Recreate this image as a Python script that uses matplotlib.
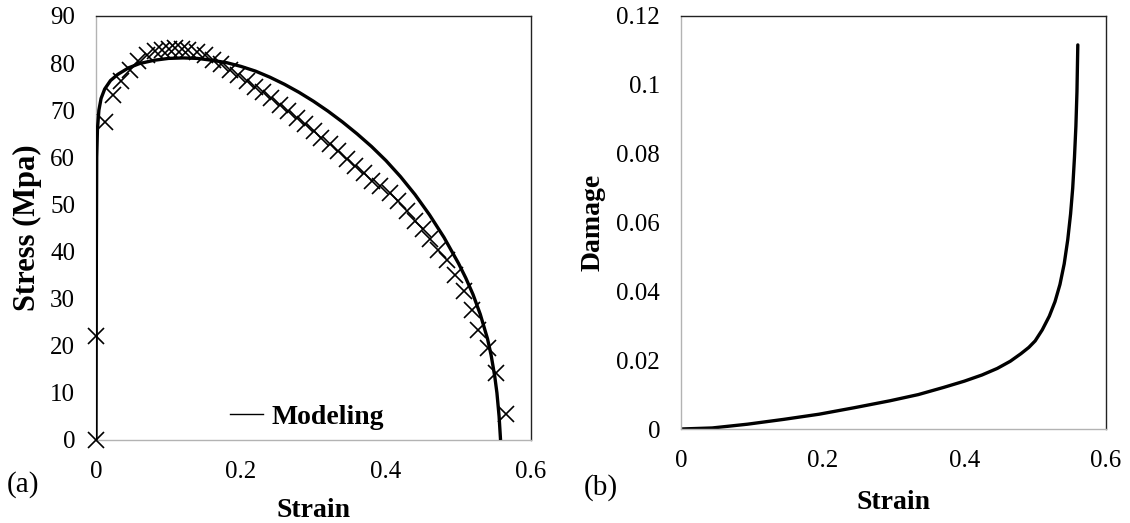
import numpy as np
import matplotlib.pyplot as plt
from matplotlib.lines import Line2D

plt.rcParams['font.family'] = ['Liberation Serif', 'DejaVu Serif']
plt.rcParams['font.size'] = 18

# modelled stress-strain curve
model_strain = [0.0, 0.0005, 0.001, 0.002, 0.004, 0.007, 0.012, 0.02, 0.03, 0.045,
                0.06, 0.08, 0.10, 0.12, 0.14, 0.16, 0.18, 0.20, 0.22, 0.24,
                0.26, 0.28, 0.30, 0.32, 0.34, 0.36, 0.38, 0.40, 0.42, 0.44,
                0.46, 0.48, 0.50, 0.51, 0.52, 0.53, 0.54, 0.545, 0.55, 0.553,
                0.556, 0.558]
model_stress = [0.0, 40.0, 60.0, 66.0, 70.0, 72.5, 74.5, 76.3, 77.6, 79.0,
                79.9, 80.6, 81.0, 81.1, 81.0, 80.6, 80.1, 79.3, 78.3, 77.0,
                75.5, 73.8, 71.9, 69.8, 67.5, 65.0, 62.3, 59.3, 55.9, 52.1,
                47.8, 43.0, 37.5, 34.4, 30.9, 26.7, 21.5, 18.0, 13.5, 10.0,
                5.0, 0.0]

# experimental points
exp_strain = [0.0, 0.0, 0.0124, 0.023, 0.035, 0.047, 0.058, 0.071, 0.081, 0.091,
              0.100, 0.109, 0.118, 0.127, 0.139, 0.150, 0.162, 0.173, 0.185, 0.196,
              0.208, 0.219, 0.231, 0.242, 0.254, 0.265, 0.277, 0.288, 0.300, 0.311,
              0.323, 0.334, 0.346, 0.357, 0.369, 0.380, 0.392, 0.406, 0.417, 0.429,
              0.440, 0.451, 0.461, 0.472, 0.484, 0.495, 0.507, 0.518, 0.527, 0.540,
              0.552, 0.565]
exp_stress = [0.0, 22.0, 67.5, 73.2, 76.2, 78.6, 80.5, 81.8, 82.5, 82.8,
              83.1, 83.2, 83.1, 82.8, 82.4, 81.7, 80.7, 79.8, 78.6, 77.4,
              76.2, 75.0, 73.8, 72.5, 71.1, 69.9, 68.4, 67.0, 65.6, 64.2,
              62.8, 61.3, 59.7, 58.2, 56.7, 55.0, 54.0, 52.5, 50.7, 48.6,
              46.5, 44.7, 42.6, 40.4, 38.3, 35.1, 31.6, 27.7, 23.4, 19.5,
              14.2, 5.5]

# damage evolution
dmg_strain = [0.0, 0.044, 0.094, 0.145, 0.195, 0.245, 0.295, 0.335, 0.371, 0.400,
              0.425, 0.4465, 0.465, 0.480, 0.491, 0.50, 0.51, 0.52, 0.528, 0.535,
              0.541, 0.546, 0.550, 0.553, 0.5555, 0.5575, 0.559, 0.5602]
dmg_value = [0.0, 0.0003, 0.0014, 0.0028, 0.0043, 0.0062, 0.0082, 0.0100, 0.0121, 0.0139,
             0.0157, 0.0176, 0.0197, 0.0219, 0.0237, 0.0256, 0.0288, 0.0328, 0.0370, 0.0420,
             0.0480, 0.0550, 0.0625, 0.0700, 0.0790, 0.0880, 0.0980, 0.1116]


def style_axes(ax):
    ax.spines['left'].set_color('#b3b3b3')
    ax.spines['bottom'].set_color('#b3b3b3')
    ax.spines['top'].set_color('#222222')
    ax.spines['right'].set_color('#222222')
    for s in ax.spines.values():
        s.set_linewidth(1.0)
    ax.tick_params(length=0, pad=15, labelsize=18)


fig = plt.figure(figsize=(11.3, 5.23), dpi=100)
ax1 = fig.add_axes([96 / 1130, 1 - 440 / 523, 435 / 1130, 424 / 523])
ax2 = fig.add_axes([681 / 1130, 1 - 429 / 523, 425 / 1130, 413 / 523])

ax1.plot(model_strain, model_stress, color='black', lw=2.4, solid_capstyle='butt',
         solid_joinstyle='round', zorder=3)
ax1.plot(exp_strain, exp_stress, ls='none', marker='x', ms=11, mew=1.2, color='black',
         clip_on=False, zorder=4)
ax1.set_xlim(0, 0.6)
ax1.set_ylim(0, 90)
ax1.set_xticks([0, 0.2, 0.4, 0.6])
ax1.set_xticklabels(['0', '0.2', '0.4', '0.6'])
ax1.set_yticks(np.arange(0, 91, 10))
ax1.set_xlabel('Strain', fontweight='bold', fontsize=20, labelpad=11)
ax1.set_ylabel('Stress (Mpa)', fontweight='bold', fontsize=22, labelpad=6)
style_axes(ax1)
ax1.legend([Line2D([0], [0], color='black', lw=1)], ['Modeling'], loc='lower center',
           bbox_to_anchor=(0.485, -0.035), frameon=False, handlelength=1.2,
           handletextpad=0.3, prop={'weight': 'bold', 'size': 20})

ax2.plot(dmg_strain, dmg_value, color='black', lw=2.4, solid_capstyle='round',
         solid_joinstyle='round')
ax2.set_xlim(0, 0.6)
ax2.set_ylim(0, 0.12)
ax2.set_xticks([0, 0.2, 0.4, 0.6])
ax2.set_xticklabels(['0', '0.2', '0.4', '0.6'])
ax2.set_yticks([0, 0.02, 0.04, 0.06, 0.08, 0.1, 0.12])
ax2.set_yticklabels(['0', '0.02', '0.04', '0.06', '0.08', '0.1', '0.12'])
ax2.set_xlabel('Strain', fontweight='bold', fontsize=20, labelpad=13)
ax2.set_ylabel('Damage', fontweight='bold', fontsize=20, labelpad=8)
style_axes(ax2)

fig.text(7 / 1130, 1 - 485 / 523, '(a)', fontsize=21, va='center', ha='left')
fig.text(584 / 1130, 1 - 488 / 523, '(b)', fontsize=21, va='center', ha='left')

fig.savefig('out.png', dpi=100)
